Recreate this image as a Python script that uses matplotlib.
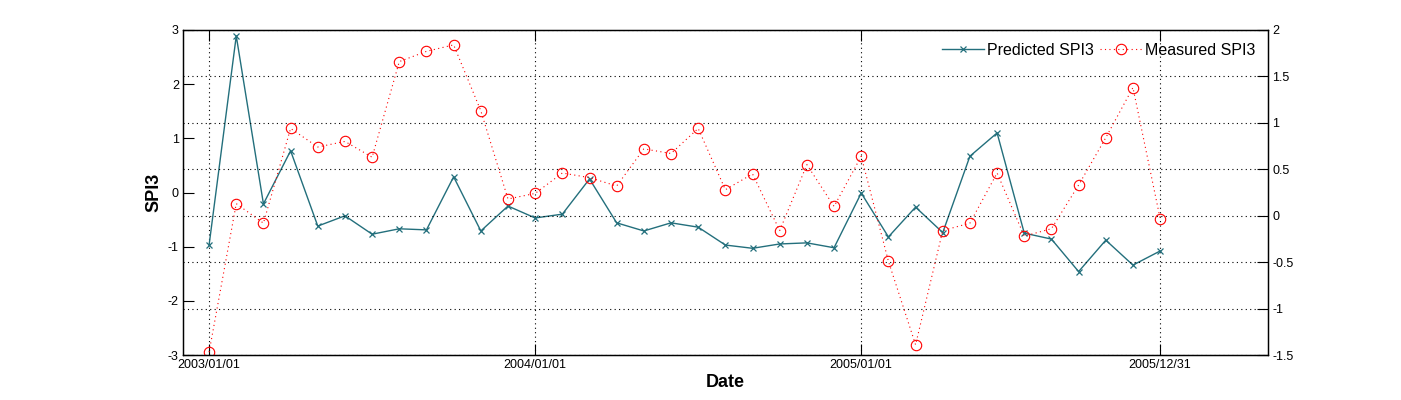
import matplotlib
matplotlib.use("Agg")
import matplotlib.pyplot as plt
import numpy as np

plt.rcParams['font.family'] = ['Liberation Sans', 'DejaVu Sans']
plt.rcParams['axes.unicode_minus'] = False

months = np.arange(36)
predicted = [-0.97, 2.89, -0.21, 0.77, -0.62, -0.43, -0.77, -0.67, -0.69, 0.29,
             -0.71, -0.25, -0.47, -0.40, 0.25, -0.56, -0.71, -0.56, -0.64, -0.97,
             -1.03, -0.95, -0.93, -1.02, -0.01, -0.82, -0.27, -0.74, 0.67, 1.10,
             -0.75, -0.86, -1.46, -0.88, -1.34, -1.08]
measured = [-1.47, 0.13, -0.08, 0.94, 0.74, 0.80, 0.63, 1.66, 1.77, 1.84,
            1.13, 0.18, 0.24, 0.46, 0.41, 0.32, 0.72, 0.67, 0.94, 0.28,
            0.45, -0.16, 0.55, 0.10, 0.64, -0.49, -1.39, -0.16, -0.08, 0.46,
            -0.22, -0.14, 0.33, 0.84, 1.38, -0.03]
tick_pos = [0, 12, 24, 35]
tick_labels = ["2003/01/01", "2004/01/01", "2005/01/01", "2005/12/31"]
left_ticks = [-3, -2, -1, 0, 1, 2, 3]
right_ticks = [-1.5, -1, -0.5, 0, 0.5, 1, 1.5, 2]

fig = plt.figure(figsize=(14.01, 4.0), dpi=100)
ax = fig.add_axes([183/1401, 1-355/400, (1268-183)/1401, (355-30)/400])
ax2 = ax.twinx()

teal = '#236f7c'
l1, = ax.plot(months, predicted, '-', color=teal, lw=1.0, marker='x',
              ms=5, mew=0.9, label='Predicted SPI3')
l2, = ax2.plot(months, measured, color='red', lw=0.8, marker='o',
               ms=7.5, mfc='none', mec='red', mew=0.8, label='Measured SPI3',
               linestyle=(0, (1, 3)))

ax.set_xlim(-0.96, 38.97)
ax.set_ylim(-3, 3)
ax2.set_ylim(-1.5, 2)
ax.set_yticks(left_ticks)
ax.set_yticklabels([f"{t:g}" for t in left_ticks])
ax2.set_yticks(right_ticks)
ax2.set_yticklabels([f"{t:g}" for t in right_ticks])
ax.set_xticks(tick_pos)
ax.set_xticklabels(tick_labels)

for a in (ax, ax2):
    a.tick_params(direction='in', length=8, width=0.8, labelsize=9, pad=3)
    for s in a.spines.values():
        s.set_linewidth(0.9)
ax.tick_params(axis='x', top=True, bottom=True)
ax.tick_params(axis='y', left=True, right=False)
ax2.tick_params(axis='y', right=True, left=False)

ax.xaxis.grid(True, linestyle=(0, (1, 3)), color='black', lw=0.8)
ax2.yaxis.grid(True, linestyle=(0, (1, 3)), color='black', lw=0.8)

ax.set_ylabel('SPI3', fontsize=13, fontweight='bold', labelpad=4)
ax.set_xlabel('Date', fontsize=13, fontweight='bold', labelpad=2)

leg = ax2.legend([l1, l2], ['Predicted SPI3', 'Measured SPI3'], loc='upper right',
                 ncol=2, frameon=False, fontsize=11.5, handlelength=2.6,
                 handletextpad=0.2, columnspacing=0.4, borderaxespad=0.4)

fig.savefig('out.png', dpi=100)
